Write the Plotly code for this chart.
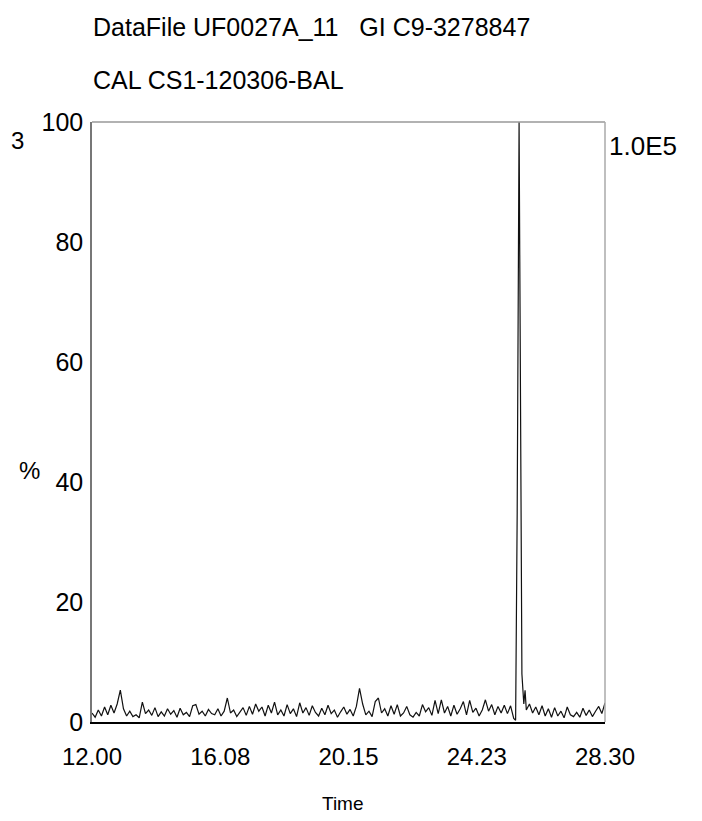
import plotly.graph_objects as go

# ---- data ----
times = [
    12.0, 12.1, 12.2, 12.3, 12.4, 12.5, 12.6, 12.7, 12.8, 12.9,
    13.0, 13.1, 13.2, 13.3, 13.4, 13.5, 13.6, 13.7, 13.8, 13.9,
    14.0, 14.1, 14.2, 14.3, 14.4, 14.5, 14.6, 14.7, 14.8, 14.9,
    15.0, 15.1, 15.2, 15.3, 15.4, 15.5, 15.6, 15.7, 15.8, 15.9,
    16.0, 16.1, 16.2, 16.3, 16.4, 16.5, 16.6, 16.7, 16.8, 16.9,
    17.0, 17.1, 17.2, 17.3, 17.4, 17.5, 17.6, 17.7, 17.8, 17.9,
    18.0, 18.1, 18.2, 18.3, 18.4, 18.5, 18.6, 18.7, 18.8, 18.9,
    19.0, 19.1, 19.2, 19.3, 19.4, 19.5, 19.6, 19.7, 19.8, 19.9,
    20.0, 20.1, 20.2, 20.3, 20.4, 20.5, 20.6, 20.7, 20.8, 20.9,
    21.0, 21.1, 21.2, 21.3, 21.4, 21.5, 21.6, 21.7, 21.8, 21.9,
    22.0, 22.1, 22.2, 22.3, 22.4, 22.5, 22.6, 22.7, 22.8, 22.9,
    23.0, 23.1, 23.2, 23.3, 23.4, 23.5, 23.6, 23.7, 23.8, 23.9,
    24.0, 24.1, 24.2, 24.3, 24.4, 24.5, 24.6, 24.7, 24.8, 24.9,
    25.0, 25.1, 25.2, 25.3, 25.4,
    25.46, 25.51, 25.57, 25.62, 25.66, 25.72, 25.76, 25.80,
    25.9, 26.0, 26.1, 26.2, 26.3, 26.4, 26.5, 26.6, 26.7, 26.8, 26.9,
    27.0, 27.1, 27.2, 27.3, 27.4, 27.5, 27.6, 27.7, 27.8, 27.9,
    28.0, 28.1, 28.2, 28.3,
]
intensity = [
    1.5, 0.8, 2.0, 1.0, 2.5, 1.2, 2.8, 1.5, 3.0, 5.3,
    2.2, 1.0, 1.8, 0.9, 1.2, 0.7, 3.3, 1.4, 2.0, 1.1,
    2.4, 0.9, 1.7, 1.0, 2.2, 1.3, 1.9, 0.8, 2.3, 1.2,
    1.6, 0.9, 2.7, 2.9, 1.3, 1.8, 1.0, 2.1, 1.4, 1.2,
    2.2, 1.0, 1.8, 4.0, 1.5, 2.0, 0.9, 1.6, 2.4, 1.1,
    2.6, 1.3, 3.0, 1.8, 2.5, 1.0, 2.8, 1.5, 3.3, 1.2,
    2.0, 1.0, 2.9, 1.4, 2.2, 0.9, 3.2, 1.5, 2.4, 1.1,
    2.7, 1.6, 1.0, 2.3, 1.2, 2.8, 1.4, 2.0, 0.8, 1.7,
    2.5, 1.3, 2.1, 1.0, 2.6, 5.6, 3.0, 1.2, 1.8, 0.9,
    3.4, 4.0, 1.5, 2.2, 1.0, 2.7, 1.3, 2.9, 1.0, 1.5,
    2.6, 1.2, 0.8, 1.6, 1.0, 2.9, 1.7, 2.4, 1.1, 3.6,
    1.4, 3.7, 1.5, 2.6, 1.0, 2.8, 1.3, 2.2, 3.4, 1.2,
    3.6, 1.6, 2.3, 1.0, 2.0, 3.7, 1.8, 2.9, 1.2, 2.6,
    1.5, 2.8, 1.4, 2.7, 0.6,
    0.3, 35.0, 100.0, 40.0, 8.0, 3.0, 5.3, 2.0,
    3.0, 1.5, 2.5, 1.2, 2.7, 1.0, 2.2, 0.8, 2.4, 1.0, 1.8,
    0.7, 2.5, 1.2, 0.9, 1.6, 0.8, 2.3, 1.1, 2.0, 0.9,
    1.8, 2.6, 1.4, 3.2,
]
x_tick_vals = [12.0, 16.075, 20.15, 24.225, 28.3]
x_tick_text = ["12.00", "16.08", "20.15", "24.23", "28.30"]
y_tick_vals = [0, 20, 40, 60, 80, 100]
y_tick_text = ["0", "20", "40", "60", "80", "100"]
title_line1 = "DataFile UF0027A_11   GI C9-3278847"
title_line2 = "CAL CS1-120306-BAL"
scale_label = "1.0E5"

FONT = "Liberation Sans, Arial, sans-serif"

fig = go.Figure()
fig.add_trace(go.Scatter(
    x=times, y=intensity, mode="lines",
    line=dict(color="#111111", width=1.2),
    hoverinfo="skip", showlegend=False,
))

fig.update_layout(
    width=694, height=813,
    margin=dict(l=84, r=97, t=114, b=99),
    paper_bgcolor="white", plot_bgcolor="white",
    font=dict(family=FONT, color="black", size=24),
    xaxis=dict(
        range=[12.0, 28.3], tickvals=x_tick_vals, ticktext=x_tick_text,
        showgrid=False, zeroline=False, ticks="",
        showline=True, linecolor="black", linewidth=2,
        tickfont=dict(family=FONT, size=24), ticklabelstandoff=12,
    ),
    yaxis=dict(
        range=[0, 100], tickvals=y_tick_vals, ticktext=y_tick_text,
        showgrid=False, zeroline=False, ticks="",
        showline=True, linecolor="#777777", linewidth=1.5,
        tickfont=dict(family=FONT, size=25), ticklabelstandoff=2,
    ),
    shapes=[
        dict(type="line", xref="paper", yref="paper", x0=0, x1=1, y0=1, y1=1,
             line=dict(color="#999999", width=1.5)),
        dict(type="line", xref="paper", yref="paper", x0=1, x1=1, y0=0, y1=1,
             line=dict(color="#aaaaaa", width=1.5)),
    ],
    annotations=[
        dict(text=title_line1, xref="paper", yref="paper", x=0, y=1.158,
             xanchor="left", yanchor="middle", showarrow=False, xshift=-1,
             font=dict(family=FONT, size=25)),
        dict(text=title_line2, xref="paper", yref="paper", x=0, y=1.07,
             xanchor="left", yanchor="middle", showarrow=False, xshift=-1,
             font=dict(family=FONT, size=25)),
        dict(text=scale_label, xref="paper", yref="paper", x=1, y=0.96,
             xanchor="left", yanchor="middle", showarrow=False, xshift=2,
             font=dict(family=FONT, size=26)),
        dict(text="%", xref="paper", yref="paper", x=-0.121, y=0.42,
             xanchor="center", yanchor="middle", showarrow=False,
             font=dict(family=FONT, size=24)),
        dict(text="Time", xref="paper", yref="paper", x=0.49, y=-0.135,
             xanchor="center", yanchor="middle", showarrow=False,
             font=dict(family=FONT, size=19)),
        dict(text="3", xref="paper", yref="paper", x=-0.162, y=0.97,
             xanchor="left", yanchor="middle", showarrow=False,
             font=dict(family=FONT, size=24)),
    ],
)

fig.write_html("out.html")
